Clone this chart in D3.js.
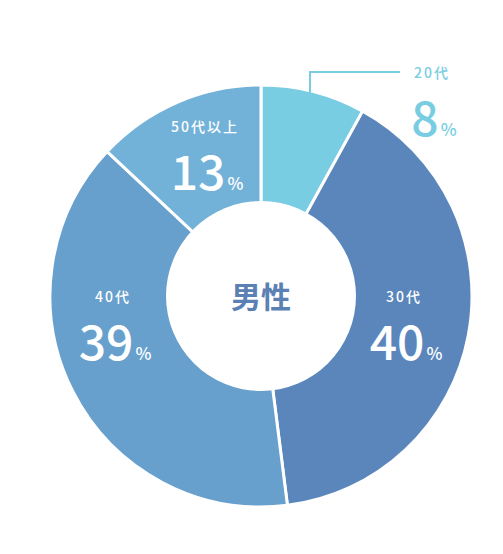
<!DOCTYPE html>
<html><head><meta charset="utf-8">
<script src="https://cdn.jsdelivr.net/npm/d3@7"></script>
<style>body{margin:0;background:#fff}svg{display:block}</style>
</head><body>
<svg width="503" height="554"></svg>
<script>
const categories = ["20代", "30代", "40代", "50代以上"];
const values = [8, 40, 39, 13];
const colors = ["#78cde3", "#5a86bc", "#679fcd", "#73b2d8"];
// label anchor points (layout only)
const labelPos = [[432, 72], [404, 296], [113, 296], [205, 126]];

const svg = d3.select("svg");
const cx = 261, cy = 296, rOut = 211, rIn = 95;
const font = "'Noto Sans CJK JP', 'Noto Sans', sans-serif";

const pie = d3.pie().sort(null).value(d => d)(values);
const arc = d3.arc().innerRadius(0).outerRadius(rOut);

const g = svg.append("g").attr("transform", `translate(${cx},${cy})`);
g.selectAll("path").data(pie).enter().append("path")
  .attr("d", arc)
  .attr("fill", (d, i) => colors[i])
  .attr("stroke", "#fff").attr("stroke-width", 3);
g.append("circle").attr("r", rIn).attr("fill", "#fff");
g.append("text").text("男性").attr("text-anchor", "middle").attr("y", 12)
  .attr("font-family", font).attr("font-weight", 700).attr("font-size", 30)
  .attr("fill", "#5a80b4");

// leader line for 20代
svg.append("path").attr("d", "M310,98 V72 H400").attr("fill", "none")
  .attr("stroke", "#78cde3").attr("stroke-width", 2);

categories.forEach((c, i) => {
  const [x, y] = labelPos[i];
  const col = i === 0 ? "#78cde3" : "#fff";
  svg.append("text").text(c).attr("x", x).attr("y", y + 6)
    .attr("text-anchor", "middle").attr("font-family", font)
    .attr("font-weight", 500).attr("font-size", 14).attr("letter-spacing", 2)
    .attr("fill", col);
  const t = svg.append("text").attr("x", x + 2).attr("y", y + 64)
    .attr("text-anchor", "middle").attr("font-family", font)
    .attr("font-weight", 500).attr("fill", col);
  t.append("tspan").text(values[i]).attr("font-size", 48);
  t.append("tspan").text("%").attr("font-size", 17).attr("dx", 2);
});
</script>
</body></html>
